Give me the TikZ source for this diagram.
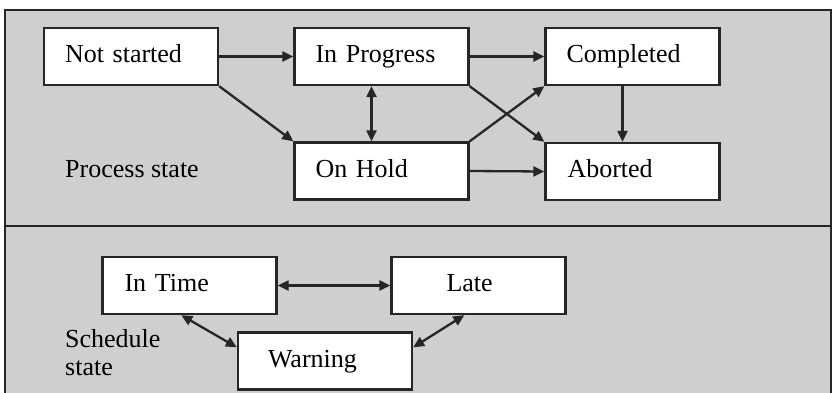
\documentclass[tikz,border=0pt]{standalone}
\usepackage{fontspec}
\setmainfont{Liberation Serif}
\usetikzlibrary{arrows.meta}
\begin{document}
\begin{tikzpicture}[x=1pt,y=-1pt,
  box/.style={draw=black!85, line width=2.4pt, fill=white, minimum width=174pt, minimum height=57pt,
    inner ysep=0pt, align=left, text height=18pt, text depth=6pt,
    font=\fontsize{26}{28}\selectfont},
  lbl/.style={inner sep=0pt, anchor=base west, align=left, font=\fontsize{26}{28}\selectfont},
  arr/.style={line width=2.3pt, black!85, -{Triangle[length=11pt,width=10pt]}},
  darr/.style={line width=2.3pt, black!85, {Triangle[length=11pt,width=10pt]}-{Triangle[length=11pt,width=10pt]}}]
\clip (0,0) rectangle (832,393);
\fill[white] (0,0) rectangle (832,393);
% frame
\fill[gray!38] (5,10) rectangle (831,400);
\draw[line width=2.2pt, black!85] (5,400) -- (5,10) -- (831,10) -- (831,400);
\draw[line width=2.2pt, black!85] (5,226) coordinate (dl) -- (831,226) coordinate (dr);
% process states
\node[box, inner xsep=21pt, text width=132pt] (ns) at (131,56.5) {Not started};
\node[box, inner xsep=21pt, text width=132pt] (ip) at (381.5,56.5) {In Progress};
\node[box, inner xsep=21pt, text width=132pt] (cp) at (632.5,56.5) {Completed};
\node[box, inner xsep=21pt, text width=132pt] (oh) at (381.5,171) {On Hold};
\node[box, inner xsep=22pt, text width=130pt] (ab) at (632.5,171.5) {Aborted};
\node[lbl] (ps) at (65,177) {Process state};
\draw[arr] (ns.east) -- (ip.west);
\draw[arr] (ip.east) -- (cp.west);
\draw[arr] (ns.south east) -- (oh.north west);
\draw[darr] ([xshift=-10pt]ip.south) -- ([xshift=-10pt]oh.north);
\draw[arr] (ip.south east) -- (ab.north west);
\draw[arr] (oh.north east) -- (cp.south west);
\draw[arr] ([xshift=-10pt]cp.south) -- ([xshift=-10pt]ab.north);
\draw[arr] (oh.east) -- (ab.west);
% schedule states
\node[box, inner xsep=22pt, text width=130pt] (it) at (189.5,285.5) {In Time};
\node[box, inner xsep=55pt, text width=64pt] (lt) at (478.5,285.5) {Late};
\node[box, inner xsep=30pt, text width=114pt] (wa) at (325,361) {Warning};
\node[lbl] (ss) at (65,375) {Schedule\\[0pt]state};
\draw[darr] (it.east) -- (lt.west);
\draw[darr] ([xshift=80pt]it.south west) -- ([yshift=-16pt]wa.north west);
\draw[darr] ([xshift=74pt]lt.south west) -- ([yshift=-16pt]wa.north east);
\end{tikzpicture}
\end{document}
